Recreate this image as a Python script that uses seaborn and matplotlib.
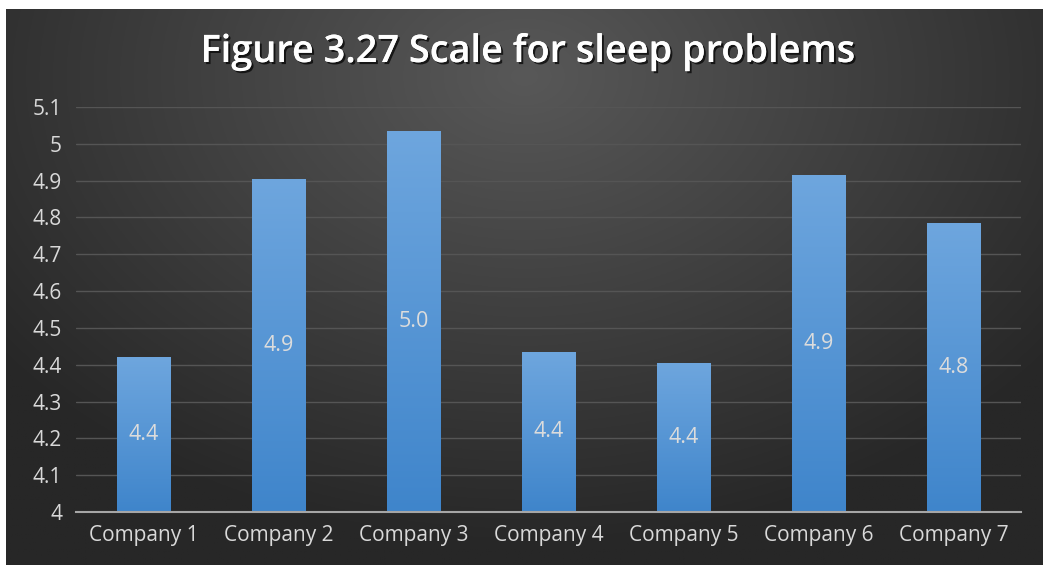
import numpy as np
import pandas as pd
import matplotlib
matplotlib.use("Agg")
import matplotlib.pyplot as plt
import matplotlib.patheffects as pe
from matplotlib.colors import LinearSegmentedColormap
import seaborn as sns

categories = ["Company 1", "Company 2", "Company 3", "Company 4", "Company 5", "Company 6", "Company 7"]
values = [4.42, 4.905, 5.035, 4.435, 4.405, 4.915, 4.785]
labels = ["4.4", "4.9", "5.0", "4.4", "4.4", "4.9", "4.8"]
yticks = [4.0, 4.1, 4.2, 4.3, 4.4, 4.5, 4.6, 4.7, 4.8, 4.9, 5.0, 5.1]
ytick_labels = ["4", "4.1", "4.2", "4.3", "4.4", "4.5", "4.6", "4.7", "4.8", "4.9", "5", "5.1"]
title = "Figure 3.27 Scale for sleep problems"

sns.set_theme(style="dark")
plt.rcParams["font.family"] = ["Open Sans", "DejaVu Sans"]

W, H = 1043, 565
fig = plt.figure(figsize=(W / 100, H / 100), dpi=100, facecolor="white")

# background with radial gradient
bg = fig.add_axes([6 / W, 0, 1 - 6 / W, (H - 9) / H])
bg.set_axis_off()
ny, nx = 300, 600
yy, xx = np.mgrid[0:1:ny * 1j, 0:1:nx * 1j]
d = np.sqrt(((xx - 0.5) / 0.75) ** 2 + ((yy - 0.12) / 1.0) ** 2)
d = np.clip(d / 0.85, 0, 1)
light = np.array([0x58, 0x58, 0x58]) / 255
dark = np.array([0x27, 0x27, 0x27]) / 255
img = light[None, None, :] * (1 - d[..., None]) + dark[None, None, :] * d[..., None]
bg.imshow(img, extent=[0, 1, 0, 1], origin="upper", aspect="auto")
bg.set_xlim(0, 1)
bg.set_ylim(0, 1)

ax = fig.add_axes([76 / W, 53 / H, (1021 - 76) / W, (512 - 107) / H])
ax.patch.set_alpha(0)
df = pd.DataFrame({"company": categories, "value": values})
sns.barplot(data=df, x="company", y="value", color="#4a90d9", width=0.4,
            saturation=1, linewidth=0, edgecolor="none", ax=ax, zorder=2)

# gradient fill on bars
grad = np.linspace(0, 1, 256)[:, None]
cmap = LinearSegmentedColormap.from_list("bar", ["#3f85cb", "#6ea6de"])
for p in ax.patches:
    x0, y0 = p.get_x(), p.get_y()
    w, h = p.get_width(), p.get_height()
    im = ax.imshow(grad, extent=[x0, x0 + w, 4.0, y0 + h], origin="lower",
                   cmap=cmap, aspect="auto", zorder=3)
    im.set_clip_path(p)
ax.set_aspect("auto")
ax.set_xlim(-0.5, len(categories) - 0.5)
ax.set_ylim(4.0, 5.1)

for i, (v, lab) in enumerate(zip(values, labels)):
    ax.text(i, (4.0 + v) / 2, lab, ha="center", va="center", color="#dcdcdc",
            fontsize=15.5, zorder=4)

ax.set_yticks(yticks)
ax.set_yticklabels(ytick_labels)
ax.tick_params(axis="both", colors="#d9d9d9", labelsize=15, length=0)
ax.tick_params(axis="y", pad=10)
ax.tick_params(axis="x", pad=9)
ax.set_xlabel("")
ax.set_ylabel("")
ax.grid(axis="y", color="#555555", linewidth=1, zorder=0)
ax.grid(axis="x", visible=False)
for s in ["top", "right", "left"]:
    ax.spines[s].set_visible(False)
ax.spines["bottom"].set_color("#a6a6a6")
ax.spines["bottom"].set_linewidth(1.5)
ax.spines["bottom"].set_zorder(5)

fig.text(528 / W, 1 - 52 / H, title, ha="center", va="center", color="white",
         fontsize=27.3, fontweight="semibold", family=["Open Sans", "DejaVu Sans"],
         path_effects=[pe.withSimplePatchShadow(offset=(1.5, -1.5), shadow_rgbFace="black", alpha=0.7),
                       pe.Normal()])

fig.savefig("out.png", dpi=100, facecolor="white")
